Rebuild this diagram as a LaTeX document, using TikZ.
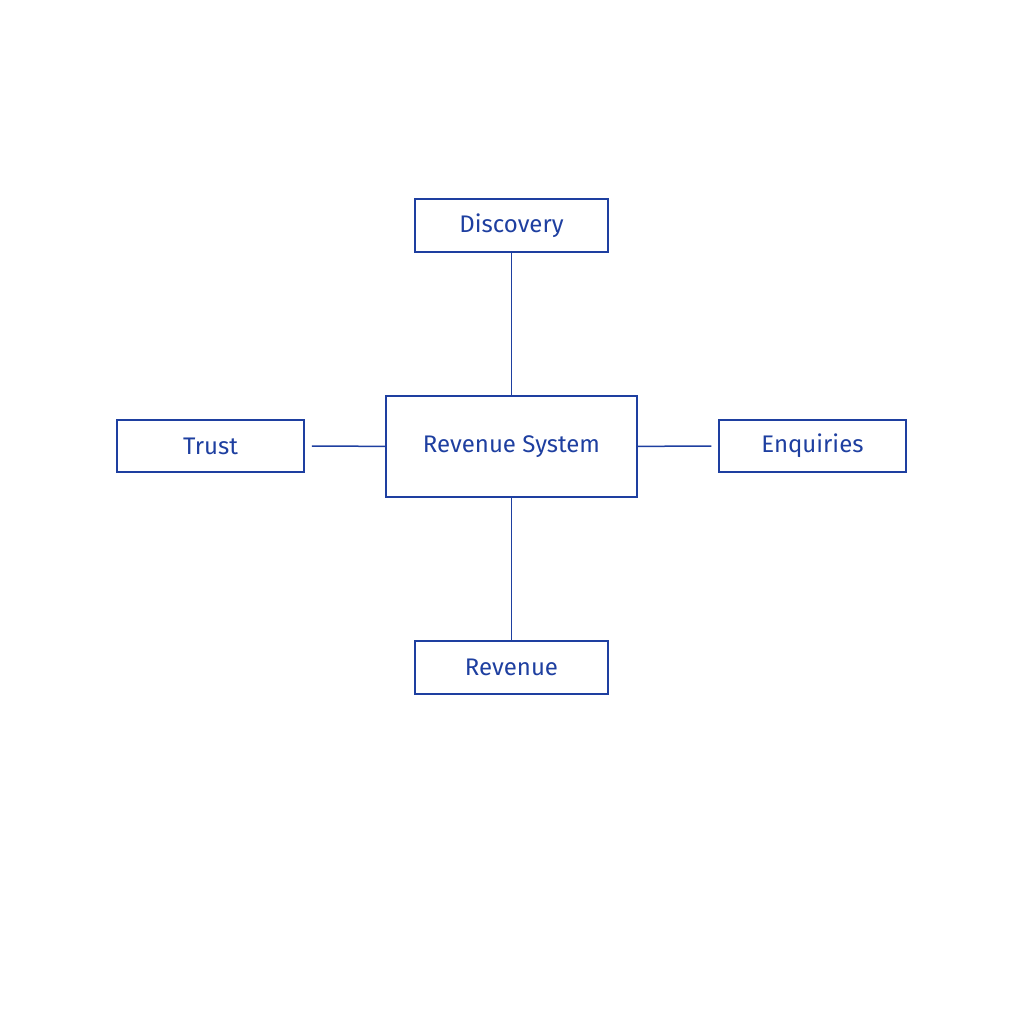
\documentclass[tikz,border=0pt]{standalone}
\usepackage{fontspec}
\setmainfont{Fira Sans}
\definecolor{ink}{HTML}{1E3FA0}
\begin{document}
\begin{tikzpicture}[x=1pt,y=-1pt,
  box/.style={draw=ink,line width=1.5pt,text=ink,font=\fontsize{24}{28}\selectfont,inner sep=0pt,minimum width=#1},
  conn/.style={draw=ink,line width=1.5pt}]
\useasboundingbox (0,0) rectangle (1024,1024);
\node[box=193pt,minimum height=53pt] (d) at (511.5,225.5) {Discovery};
\node[box=251pt,minimum height=101pt] (c) at (511.5,446.5) {Revenue System};
\node[box=187pt,minimum height=52pt] (t) at (210.5,446) {Trust};
\node[box=187pt,minimum height=52pt] (e) at (812.5,446) {Enquiries};
\node[box=193pt,minimum height=53pt] (r) at (511.5,667.5) {Revenue};
\draw[conn] (d) -- (c);
\draw[conn] (c) -- (r);
\draw[conn,shorten >=7pt] (c) -- (t);
\draw[conn,shorten >=7pt] (c) -- (e);
\end{tikzpicture}
\end{document}
